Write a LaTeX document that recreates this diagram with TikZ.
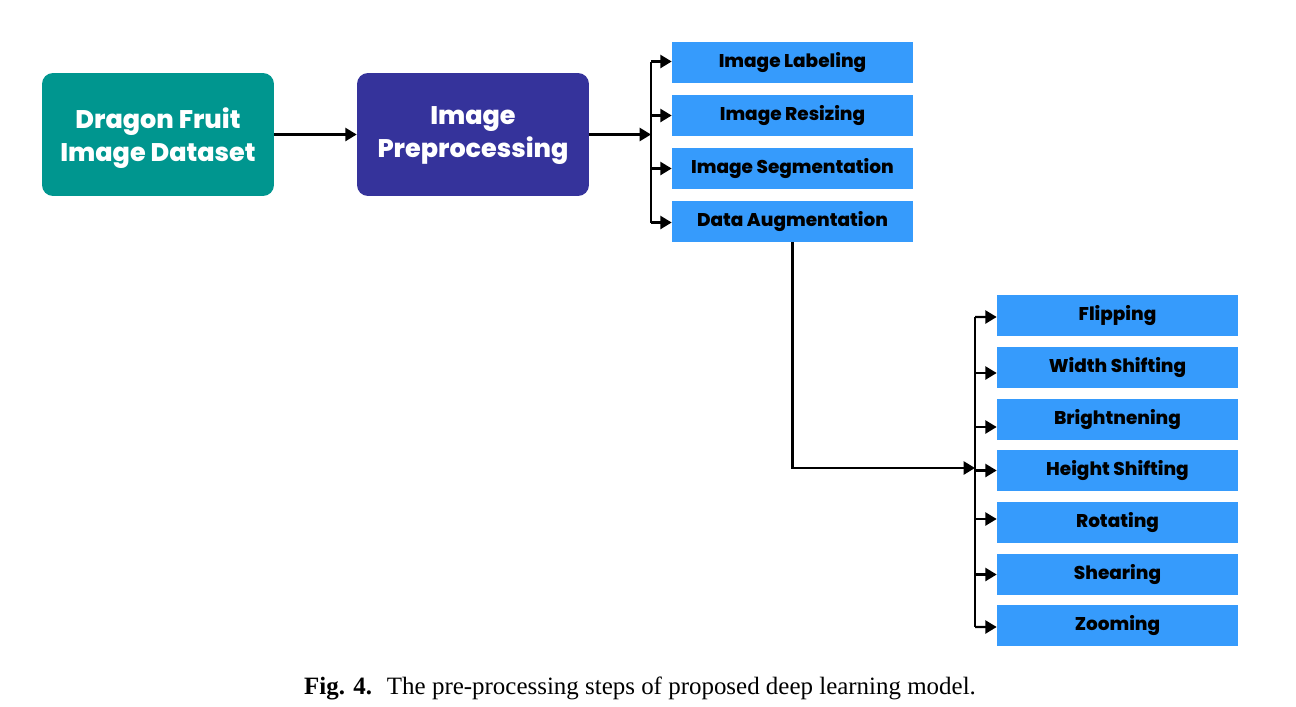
\documentclass[tikz,border=0pt]{standalone}
\usepackage{fontspec}
\setmainfont{Liberation Serif}
\newfontfamily\popfont{Poppins}[BoldFont={Poppins ExtraBold}]
\usetikzlibrary{arrows.meta}
\definecolor{dsteal}{RGB}{0,150,143}
\definecolor{preind}{RGB}{53,51,155}
\definecolor{stepblue}{RGB}{54,155,252}
\begin{document}
\begin{tikzpicture}[x=0.02cm,y=-0.02cm,
  conn/.style={line width=1.3pt,-{Triangle[length=6.5pt,width=7.5pt]}},
  busline/.style={line width=1.3pt},
  bigbox/.style={rounded corners=0.22cm,minimum width=4.64cm,minimum height=2.46cm,inner sep=0pt},
  bigtext/.style={align=center,text=white,inner sep=0pt,
    font=\popfont\bfseries\fontsize{14.5}{19}\selectfont},
  stepbox/.style={fill=stepblue,minimum width=4.82cm,minimum height=0.82cm,inner sep=0pt,
    text=black,font=\popfont\bfseries\fontsize{10.5}{12}\selectfont}]
\useasboundingbox (0,0) rectangle (1296,707);
% main boxes
\node[bigbox,fill=dsteal,label={[bigtext,yshift=-0.07cm]center:{Dragon Fruit\\Image Dataset}}] (ds) at (158,134.5) {};
\node[bigbox,fill=preind,label={[bigtext,yshift=-0.02cm]center:{Image\\Preprocessing}}] (pre) at (473,134.5) {};
% preprocessing steps
\node[stepbox] (lab) at (792.5,62.5) {Image Labeling};
\node[stepbox] (res) at (792.5,115.5) {Image Resizing};
\node[stepbox] (seg) at (792.5,168.5) {Image Segmentation};
\node[stepbox] (aug) at (792.5,221.5) {Data Augmentation};
% augmentation steps
\node[stepbox] (fl) at (1117.5,315.5) {Flipping};
\node[stepbox] (ws) at (1117.5,367.5) {Width Shifting};
\node[stepbox] (br) at (1117.5,419.5) {Brightnening};
\node[stepbox] (hs) at (1117.5,470.5) {Height Shifting};
\node[stepbox] (ro) at (1117.5,522.5) {Rotating};
\node[stepbox] (sh) at (1117.5,574.5) {Shearing};
\node[stepbox] (zo) at (1117.5,625.5) {Zooming};
% bus coordinates
\coordinate (b1) at (651,134.5);
\coordinate (b1top) at (651,61.5);
\coordinate (b1bot) at (651,222.5);
\coordinate (b2) at (975,468);
\coordinate (b2top) at (975,317);
\coordinate (b2bot) at (975,627);
% arrow entry points on the augmentation boxes
\coordinate (flin) at ([yshift=-0.03cm]fl.west);
\coordinate (wsin) at ([yshift=-0.11cm]ws.west);
\coordinate (brin) at ([yshift=-0.15cm]br.west);
\coordinate (hsin) at (hs.west);
\coordinate (roin) at ([yshift=0.07cm]ro.west);
\coordinate (shin) at (sh.west);
\coordinate (zoin) at ([yshift=-0.03cm]zo.west);
% connectors
\draw[conn] (ds.east) -- (pre.west);
\draw[conn] (pre.east) -- (b1);
\draw[busline] (b1top) -- (b1bot);
\draw[conn] (b1top) -- ([yshift=0.02cm]lab.west);
\draw[conn] (b1 |- res.west) -- (res.west);
\draw[conn] (b1 |- seg.west) -- (seg.west);
\draw[conn] (b1bot) -- ([yshift=-0.02cm]aug.west);
\draw[conn] (aug.south) |- (b2);
\draw[busline] (b2top) -- (b2bot);
\draw[conn] (b2top) -- (flin);
\foreach \n in {ws,br,hs,ro,sh}
  \draw[conn] (b2 |- \n in) -- (\n in);
\draw[conn] (b2bot) -- (zoin);
% caption
\node[font=\fontsize{14.2}{17}\selectfont] (cap) at (640,688)
  {\textbf{Fig. 4.}\hspace{0.6em}The pre-processing steps of proposed deep learning model.};
\end{tikzpicture}
\end{document}
